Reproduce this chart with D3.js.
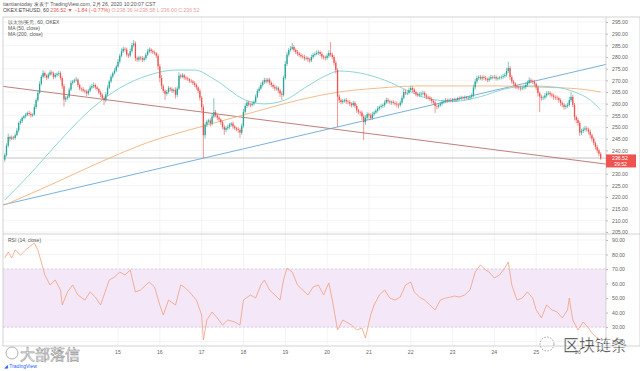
<!DOCTYPE html>
<html>
<head>
<meta charset="utf-8">
<script src="https://cdn.jsdelivr.net/npm/d3@7"></script>
<style>
body { margin: 0; background: #fff; }
svg { display: block; font-family: "Liberation Sans", Arial, sans-serif; }
</style>
</head>
<body>
<svg id="chart" width="640" height="371"></svg>
<script>
// hourly closes (one per candle)
var closes = [
  238.0,242.0,245.7,245.0,245.5,245.3,246.5,248.5,251.7,252.5,
  253.9,254.6,255.3,256.0,255.6,255.0,255.4,258.5,261.5,264.6,
  268.5,271.5,273.1,272.0,271.2,272.4,273.4,273.0,271.5,272.3,
  272.8,273.1,271.0,267.5,261.8,262.5,263.0,266.0,268.9,269.5,
  270.0,270.3,268.0,266.5,266.2,265.6,265.2,264.4,265.5,266.9,
  267.5,268.0,267.0,266.3,264.8,263.8,262.5,261.4,264.0,266.8,
  269.5,271.6,273.0,274.2,275.9,278.0,280.5,282.4,283.5,283.2,
  281.0,280.6,282.5,285.0,285.8,279.5,278.9,279.8,279.5,278.8,
  279.5,281.0,282.4,283.2,282.5,282.0,281.6,280.5,276.0,271.0,
  267.5,265.5,264.2,265.0,266.6,266.2,265.5,265.9,263.8,266.5,
  272.0,271.5,272.2,271.2,270.8,270.5,269.8,269.5,268.8,268.0,
  267.0,265.5,262.5,258.5,246.5,251.0,252.3,252.8,251.5,254.5,
  256.4,255.0,254.0,253.2,252.0,250.0,248.8,249.5,250.0,251.0,
  251.5,250.2,249.5,249.0,248.7,247.6,250.5,256.5,259.0,260.5,
  259.6,259.4,260.0,260.8,263.0,265.5,266.5,268.0,269.2,270.1,
  269.5,270.3,269.0,268.0,267.2,266.5,266.8,265.6,264.3,263.8,
  271.0,277.0,281.0,283.0,283.5,284.3,283.0,282.1,281.5,280.9,
  280.3,280.0,279.4,279.6,279.0,278.5,280.0,280.9,281.3,281.7,
  282.1,281.3,280.2,279.8,279.6,280.5,281.7,281.0,280.0,277.5,
  274.4,263.0,261.5,260.7,261.2,261.6,260.9,260.7,260.0,259.4,
  260.3,259.0,257.2,256.4,256.2,254.5,252.1,254.0,255.5,255.0,
  253.9,255.5,256.2,257.0,258.0,258.6,259.0,259.4,260.5,261.6,
  261.0,260.5,260.8,260.3,260.0,259.6,259.4,260.5,262.5,265.0,
  264.5,264.6,265.8,266.7,266.0,265.0,264.2,263.7,264.0,264.3,
  264.6,263.5,262.9,262.6,262.0,261.2,260.5,259.0,258.8,259.4,
  260.0,260.7,261.0,261.6,261.2,261.6,261.4,261.8,261.5,261.6,
  262.4,262.2,262.6,262.4,262.8,262.4,262.5,262.9,263.5,267.0,
  269.5,271.0,271.4,270.8,271.4,271.0,270.5,270.1,270.8,271.4,
  271.2,271.4,270.8,271.0,271.2,271.4,271.8,272.3,274.0,275.3,
  271.4,269.5,268.6,267.4,267.0,266.8,266.5,266.9,267.1,268.0,
  269.0,270.1,269.6,269.3,268.5,267.0,264.5,263.0,262.4,262.6,
  263.5,264.4,264.6,264.0,263.5,262.9,262.6,262.4,261.5,260.3,
  259.5,258.6,259.0,259.4,261.5,262.9,259.5,254.3,253.0,251.7,
  247.6,248.3,248.9,249.4,249.0,248.0,246.5,245.0,243.2,241.5,
  240.0,238.5,236.5
]
var firstOpen = 236.0

// wick lengths above / below the body
var upWick = [
  0.8,1.0,1.5,0.6,0.9,0.7,0.8,1.1,0.6,0.9, 0.7,0.5,0.8,0.6,0.9,0.7,0.5,1.2,0.8,1.0,
  1.1,0.9,1.3,0.7,0.6,0.9,1.0,0.8,0.7,0.9, 0.6,1.0,0.8,0.7,0.9,0.8,0.6,0.9,1.0,0.7,
  0.8,1.2,0.6,0.7,0.5,0.9,0.6,0.8,0.7,1.0, 0.9,1.1,0.6,0.7,0.5,0.8,0.6,0.7,0.9,1.1,
  0.8,0.9,0.7,1.0,0.8,1.1,0.9,1.3,1.0,0.7, 0.8,0.6,1.2,1.0,1.5,0.9,0.7,0.8,0.6,0.9,
  0.7,0.8,1.0,0.9,0.6,0.7,0.8,0.5,0.9,1.0, 1.2,0.8,0.7,0.9,1.0,0.6,0.8,0.7,1.1,0.9,
  1.4,0.8,0.9,0.6,0.7,0.8,0.5,0.7,0.6,0.8, 0.7,0.6,0.9,0.8,1.2,1.0,0.8,0.7,0.9,1.5,
  6.0,0.9,0.7,0.8,0.6,0.7,0.9,0.8,1.0,0.7, 0.6,0.8,0.7,0.6,0.9,0.8,1.0,1.2,1.1,0.9,
  0.7,0.8,0.9,0.6,1.0,0.8,0.9,1.1,0.8,1.0, 0.9,0.7,0.8,0.6,0.7,0.9,0.8,0.6,0.7,0.9,
  1.0,1.3,1.1,0.9,1.2,1.7,0.8,0.7,0.9,0.6, 0.8,0.7,0.9,0.8,0.6,0.7,1.0,0.8,0.9,1.1,
  0.8,0.7,0.9,0.6,0.8,1.0,1.2,4.7,0.9,0.8, 1.0,0.8,0.9,0.7,0.8,0.6,0.9,0.7,0.8,0.6,
  0.9,0.7,0.8,0.6,0.7,0.8,0.9,1.1,0.8,0.7, 0.9,1.0,0.8,0.7,0.9,0.6,0.8,0.7,0.9,1.0,
  0.8,0.7,0.6,0.8,0.7,0.9,0.6,0.8,1.0,1.2, 0.9,0.8,1.1,0.9,0.7,0.8,0.6,0.7,0.9,0.8,
  1.0,0.7,0.8,0.6,0.7,0.8,0.6,0.9,0.7,0.8, 0.6,0.9,0.7,0.8,0.6,0.7,0.8,0.6,0.7,0.9,
  0.6,0.7,0.8,0.6,0.7,0.5,0.8,0.7,1.0,1.2, 1.1,1.0,0.8,0.9,0.7,0.8,0.9,0.7,0.8,1.0,
  0.7,0.9,0.8,0.6,0.7,0.8,0.9,1.0,1.4,2.6, 0.8,0.9,0.7,0.6,0.8,0.7,0.9,0.6,0.8,1.0,
  0.9,1.2,0.8,0.7,0.9,0.6,0.8,0.7,0.9,0.8, 1.0,0.9,0.8,0.7,0.6,0.8,0.7,0.9,0.6,0.8,
  0.7,0.8,0.9,1.0,1.5,2.0,0.9,0.8,0.7,0.9, 0.8,1.0,0.9,1.1,0.8,0.7,0.9,0.6,0.8,0.7,
  0.9,0.8,0.7
]
var downWick = [
  0.9,0.7,0.8,1.2,0.6,0.8,0.7,0.5,0.9,0.7, 0.8,0.6,0.9,0.7,0.8,1.0,0.7,0.6,0.8,0.7,
  0.6,0.8,0.7,0.9,1.0,0.7,0.6,0.8,1.1,0.7, 0.8,0.9,1.0,1.2,3.0,1.1,0.8,0.7,0.6,0.8,
  0.7,0.6,0.9,0.8,1.0,0.7,0.9,1.2,0.8,0.6, 0.7,0.8,0.9,0.7,0.8,1.0,0.9,2.0,0.8,0.7,
  0.6,0.7,0.8,0.6,0.7,0.5,0.8,0.6,0.7,0.9, 0.8,1.0,0.7,0.6,0.8,1.2,1.0,0.8,0.9,1.0,
  0.8,0.7,0.6,0.8,0.9,0.7,0.8,0.9,1.5,1.8, 1.2,1.0,2.6,0.8,0.7,0.9,1.0,0.8,1.6,0.9,
  0.7,0.8,0.6,0.9,0.7,0.8,0.9,0.7,0.8,0.9, 1.0,1.1,1.2,1.5,9.8,1.4,1.0,0.8,1.3,0.9,
  0.8,0.9,1.0,0.8,1.1,0.9,2.2,1.0,0.8,0.9, 0.8,1.0,0.9,0.8,1.1,2.3,1.0,0.8,0.7,0.9,
  0.8,0.9,0.7,0.8,0.6,0.7,0.8,0.6,0.7,0.8, 0.9,0.8,1.0,0.9,0.8,1.0,0.9,1.1,1.5,2.2,
  0.8,0.7,0.9,0.8,0.7,0.6,0.9,0.8,1.0,0.8, 0.9,0.7,1.0,0.8,1.1,0.9,0.7,0.8,0.7,0.6,
  0.8,0.9,1.0,0.8,1.1,0.7,0.8,0.9,1.0,1.2, 1.5,13.0,1.2,1.0,0.9,0.8,1.0,0.9,1.1,1.0,
  0.8,1.0,1.2,0.9,1.3,1.5,7.7,1.2,1.0,1.4, 1.0,0.8,0.9,0.7,0.8,0.9,0.7,0.8,0.9,0.7,
  0.9,0.8,1.0,0.7,0.9,1.2,1.4,0.8,0.9,0.7, 0.8,0.9,0.7,0.8,1.0,0.9,1.1,0.8,0.9,1.0,
  0.8,0.9,1.0,0.8,0.9,1.1,1.0,3.0,1.2,0.9, 0.8,0.9,0.7,0.8,0.9,0.7,0.8,0.9,0.7,0.8,
  0.7,0.8,0.6,0.7,0.8,0.6,0.7,0.8,0.9,0.8, 1.0,0.9,0.8,0.7,0.9,0.8,0.7,0.9,0.8,0.7,
  0.8,0.7,0.9,0.8,0.7,0.8,0.9,0.7,0.8,0.9, 1.2,1.0,0.9,1.1,0.8,0.9,1.0,0.8,0.9,0.8,
  0.8,0.7,0.9,0.8,1.0,1.2,1.4,6.6,1.1,0.9, 0.8,0.9,0.8,1.0,0.9,1.2,1.0,0.9,1.1,1.3,
  1.0,1.2,0.9,0.8,0.7,0.9,1.0,1.5,1.3,1.2, 1.4,1.0,0.9,0.8,1.0,1.1,1.2,1.3,1.0,1.2,
  1.1,1.0,0.6
]

// moving averages (bar index -> value)
var ma50Idx = [0,14,32,49,66,83,98,109,121,138,149,161,172,184,192,204,218,233,244,258,273,287,301,316,327,336,342]
var ma50Val = [218.7,229.4,244.4,257.3,266.7,272.3,274.4,274.4,270.1,261.6,259.9,261.6,266.7,271.9,274.0,273.1,270.1,265.0,262.0,261.0,263.0,266.3,267.6,267.1,265.0,261.6,257.3]
var ma200Idx = [0,26,55,83,112,141,169,192,215,238,261,284,307,330,342]
var ma200Val = [216.6,225.1,235.0,243.6,250.0,256.0,261.6,265.0,266.7,267.6,267.6,267.6,267.1,266.3,265.0]

// RSI (14, close): [bar index, value]
var rsiPoints = [
  [0,77.6],[2,81.7],[4,77.6],[6,83.1],[9,79.6],[12,83.1],[14,85.2],[17,87.9],[19,83.1],[21,74.8],
  [23,65.9],[26,59.0],[29,62.4],[32,55.5],[33,45.2],[36,54.2],[39,59.0],[42,52.1],[46,48.6],[49,54.2],
  [52,50.7],[55,45.2],[58,55.5],[60,62.4],[63,64.5],[66,67.9],[69,65.9],[72,69.3],[75,54.2],[78,55.5],
  [81,59.0],[83,61.0],[86,57.6],[89,45.2],[91,38.3],[94,48.6],[98,45.2],[101,59.0],[103,57.6],[106,54.2],
  [110,48.6],[113,38.3],[114,21.1],[116,34.9],[119,40.4],[122,36.3],[125,31.4],[128,34.9],[132,33.5],[135,31.4],
  [137,48.6],[141,52.1],[144,50.0],[147,59.0],[149,62.4],[152,55.5],[155,52.1],[158,48.6],[160,62.4],[162,70.7],
  [165,67.9],[168,59.0],[171,55.5],[174,52.1],[177,57.6],[180,59.0],[183,52.1],[186,60.4],[188,48.6],[191,28.0],
  [194,34.9],[196,33.5],[199,31.4],[202,28.0],[205,29.4],[207,22.5],[210,38.3],[212,45.2],[215,52.1],[218,55.5],
  [221,50.0],[224,48.6],[227,50.7],[230,59.0],[233,61.0],[235,54.2],[238,50.7],[241,48.6],[244,45.2],[247,41.8],
  [250,48.6],[253,50.0],[256,50.7],[258,51.4],[261,50.7],[264,52.1],[267,55.5],[270,67.9],[273,72.8],[276,69.3],
  [278,67.9],[281,63.8],[284,65.9],[287,70.7],[289,74.8],[291,59.0],[294,48.6],[297,50.0],[300,54.2],[303,50.0],
  [305,41.8],[308,36.3],[311,45.2],[314,41.8],[317,40.4],[320,36.3],[323,41.8],[324,50.0],[326,34.9],[329,28.0],
  [332,33.5],[335,29.4],[337,25.9],[340,22.5],[342,21.1]
]

// drawn lines: [bar index, price] at both ends
var trendDown = [[-3, 267.6], [345, 234.1]]
var trendUp = [[-3, 216.3], [345, 276.8]]
var hLevel = 236.7

var priceTicks = [205,210,215,220,225,230,235,240,245,250,255,260,265,270,275,280,285,290,295]
var rsiTicks = [20,30,40,50,60,70,80,90]
var days = [15,16,17,18,19,20,21,22,23,24,25,26]
var lastPrice = 236.52
var countdown = "39:52"

var t0 = Date.UTC(2020, 1, 12, 7)
var HOUR = 3600 * 1000
var axisX = 606
var mainTop = 17, mainBot = 234, rsiTop = 234, rsiBot = 346

var upColor = "#26a69a", downColor = "#ef5350"

var svg = d3.select("#chart")

var x = d3.scaleUtc()
    .domain([Date.UTC(2020, 1, 15), Date.UTC(2020, 1, 26)])
    .range([118, 578])
var xi = i => x(new Date(t0 + i * HOUR))
var y = d3.scaleLinear().domain([205, 295]).range([232, 22])
var ry = d3.scaleLinear().domain([20, 70]).range([341.6, 269])

var bars = closes.map((c, i) => {
    var o = i ? closes[i - 1] : firstOpen
    return {i: i, o: o, c: c, h: Math.max(o, c) + upWick[i], l: Math.min(o, c) - downWick[i]}
})

// clip paths
var defs = svg.append("defs")
defs.append("clipPath").attr("id", "clipMain").append("rect")
    .attr("x", 3).attr("y", mainTop).attr("width", axisX - 3).attr("height", mainBot - mainTop)
defs.append("clipPath").attr("id", "clipRsi").append("rect")
    .attr("x", 3).attr("y", rsiTop).attr("width", axisX - 3).attr("height", rsiBot - rsiTop)

// grid
var grid = svg.append("g").attr("stroke", "#f1f1f1").attr("stroke-width", 0.8)
grid.selectAll(".vg").data(days).enter().append("line")
    .attr("x1", d => x(Date.UTC(2020, 1, d))).attr("x2", d => x(Date.UTC(2020, 1, d)))
    .attr("y1", mainTop).attr("y2", rsiBot)
grid.selectAll(".hg").data(priceTicks).enter().append("line")
    .attr("x1", 3).attr("x2", axisX).attr("y1", d => y(d)).attr("y2", d => y(d))
grid.selectAll(".rg").data(rsiTicks).enter().append("line")
    .attr("x1", 3).attr("x2", axisX).attr("y1", d => ry(d)).attr("y2", d => ry(d))

// RSI band
svg.append("rect")
    .attr("x", 3).attr("y", ry(70)).attr("width", axisX - 3).attr("height", ry(30) - ry(70))
    .attr("fill", "#f3e7f8")
svg.selectAll(".bandline").data([70, 30]).enter().append("line")
    .attr("x1", 3).attr("x2", axisX).attr("y1", d => ry(d)).attr("y2", d => ry(d))
    .attr("stroke", "#c9b8d6").attr("stroke-width", 0.6).attr("stroke-dasharray", "2,2")

// main pane
var main = svg.append("g").attr("clip-path", "url(#clipMain)")

main.append("line")
    .attr("x1", 3).attr("x2", axisX).attr("y1", y(hLevel)).attr("y2", y(hLevel))
    .attr("stroke", "#b5b5b5").attr("stroke-width", 0.8)

var line = d3.line().x(d => xi(d[0])).y(d => y(d[1]))
main.append("path").attr("d", line(trendDown))
    .attr("fill", "none").attr("stroke", "#b9706c").attr("stroke-width", 0.9)
main.append("path").attr("d", line(trendUp))
    .attr("fill", "none").attr("stroke", "#6aa8d8").attr("stroke-width", 0.9)

var maLine = d3.line().x(d => xi(d[0])).y(d => y(d[1])).curve(d3.curveMonotoneX)
main.append("path").attr("d", maLine(ma200Idx.map((d, k) => [d, ma200Val[k]])))
    .attr("fill", "none").attr("stroke", "#f2b37c").attr("stroke-width", 0.9)
main.append("path").attr("d", maLine(ma50Idx.map((d, k) => [d, ma50Val[k]])))
    .attr("fill", "none").attr("stroke", "#7fd0d3").attr("stroke-width", 0.9)

var candle = main.selectAll(".candle").data(bars).enter().append("g")
    .attr("class", "candle")
    .attr("fill", d => d.c >= d.o ? upColor : downColor)
    .attr("stroke", d => d.c >= d.o ? upColor : downColor)
candle.append("line")
    .attr("x1", d => xi(d.i)).attr("x2", d => xi(d.i))
    .attr("y1", d => y(d.h)).attr("y2", d => y(d.l))
    .attr("stroke-width", 0.6)
candle.append("rect")
    .attr("x", d => xi(d.i) - 0.65).attr("width", 1.3)
    .attr("y", d => y(Math.max(d.o, d.c)))
    .attr("height", d => Math.max(0.6, Math.abs(y(d.o) - y(d.c))))
    .attr("stroke", "none")

// RSI pane
svg.append("g").attr("clip-path", "url(#clipRsi)")
    .append("path")
    .attr("d", d3.line().x(d => xi(d[0])).y(d => ry(d[1]))(rsiPoints))
    .attr("fill", "none").attr("stroke", "#f3a07e").attr("stroke-width", 0.8)

// frames
var frame = svg.append("g").attr("fill", "none").attr("stroke", "#c8c8c8").attr("stroke-width", 0.8)
frame.append("rect").attr("x", 3).attr("y", mainTop).attr("width", 637).attr("height", rsiBot - mainTop)
frame.append("line").attr("x1", 3).attr("x2", 640).attr("y1", mainBot).attr("y2", mainBot)
frame.append("line").attr("x1", axisX).attr("x2", axisX).attr("y1", mainTop).attr("y2", rsiBot)

// price axis (ticks hidden behind the last price label are dropped)
var shownTicks = priceTicks.filter(d => Math.abs(y(d) - y(lastPrice) - 2.5) > 8)
var yAxis = d3.axisRight(y).tickValues(shownTicks).tickSize(2).tickFormat(d3.format(".2f"))
var gy = svg.append("g").attr("transform", "translate(" + axisX + ",0)").call(yAxis)
var ryAxis = d3.axisRight(ry).tickValues(rsiTicks).tickSize(2).tickFormat(d3.format(".2f"))
var gr = svg.append("g").attr("transform", "translate(" + axisX + ",0)").call(ryAxis)
;[gy, gr].forEach(g => {
    g.select(".domain").remove()
    g.selectAll("line").attr("stroke", "#bbb")
    g.selectAll("text").attr("font-size", 5.2).attr("fill", "#666").attr("x", 6)
        .attr("font-family", "Liberation Sans, Arial, sans-serif")
})

// last price label
var lp = svg.append("g").attr("transform", "translate(" + axisX + "," + y(lastPrice) + ")")
lp.append("rect").attr("x", 0).attr("y", -4).attr("width", 30).attr("height", 13).attr("fill", downColor)
lp.append("text").attr("x", 6).attr("y", 1.8).attr("font-size", 5.2).attr("fill", "#fff").text(lastPrice.toFixed(2))
lp.append("text").attr("x", 8).attr("y", 7.4).attr("font-size", 5.2).attr("fill", "#fff").text(countdown)

// time axis
svg.selectAll(".day").data(days).enter().append("text")
    .attr("x", d => x(Date.UTC(2020, 1, d))).attr("y", 354)
    .attr("text-anchor", "middle").attr("font-size", 5.2).attr("fill", "#666")
    .text(d => d)

// header
svg.append("text").attr("x", 3).attr("y", 5.5).attr("font-size", 5.2).attr("fill", "#555")
    .text("tiantiantoday 发表于 TradingView.com, 2月 26, 2020 10:20:07 CST")
var h2 = svg.append("text").attr("x", 3).attr("y", 12).attr("font-size", 5.2).attr("fill", "#444")
h2.append("tspan").text("OKEX:ETHUSD, 60 ")
h2.append("tspan").attr("fill", downColor).text("236.52 ▼ −1.84 (−0.77%) ")
h2.append("tspan").attr("fill", "#e8a0a0").text("O:238.36 H:238.58 L:236.00 C:236.52")

// legends
var leg = svg.append("g").attr("font-size", 5).attr("fill", "#555")
leg.append("text").attr("x", 8).attr("y", 24).text("以太坊/美元, 60, OKEX")
leg.append("text").attr("x", 8).attr("y", 30).text("MA (50, close)")
leg.append("text").attr("x", 8).attr("y", 36).text("MA (200, close)")
leg.append("text").attr("x", 8).attr("y", 242).text("RSI (14, close)")

// watermarks
svg.append("text").attr("x", 4).attr("y", 368).attr("font-size", 5).attr("fill", "#2962ff")
    .text("◢ TradingView")
svg.append("circle").attr("cx", 12).attr("cy", 353).attr("r", 6)
    .attr("fill", "none").attr("stroke", "#9a9a9a").attr("stroke-width", 0.8)
svg.append("text").attr("x", 20).attr("y", 360).attr("font-size", 15).attr("fill", "#fff")
    .attr("stroke", "#9a9a9a").attr("stroke-width", 0.6).attr("font-family", "Noto Sans CJK SC")
    .text("大部落信")
svg.append("circle").attr("cx", 547).attr("cy", 344).attr("r", 7)
    .attr("fill", "none").attr("stroke", "#888").attr("stroke-width", 0.8).attr("stroke-dasharray", "1.5,1.5")
svg.append("text").attr("x", 563).attr("y", 351).attr("font-size", 16).attr("fill", "#222")
    .attr("stroke", "#fff").attr("stroke-width", 0.4)
    .attr("font-family", "Noto Sans CJK SC").text("区块链条")
</script>
</body>
</html>
